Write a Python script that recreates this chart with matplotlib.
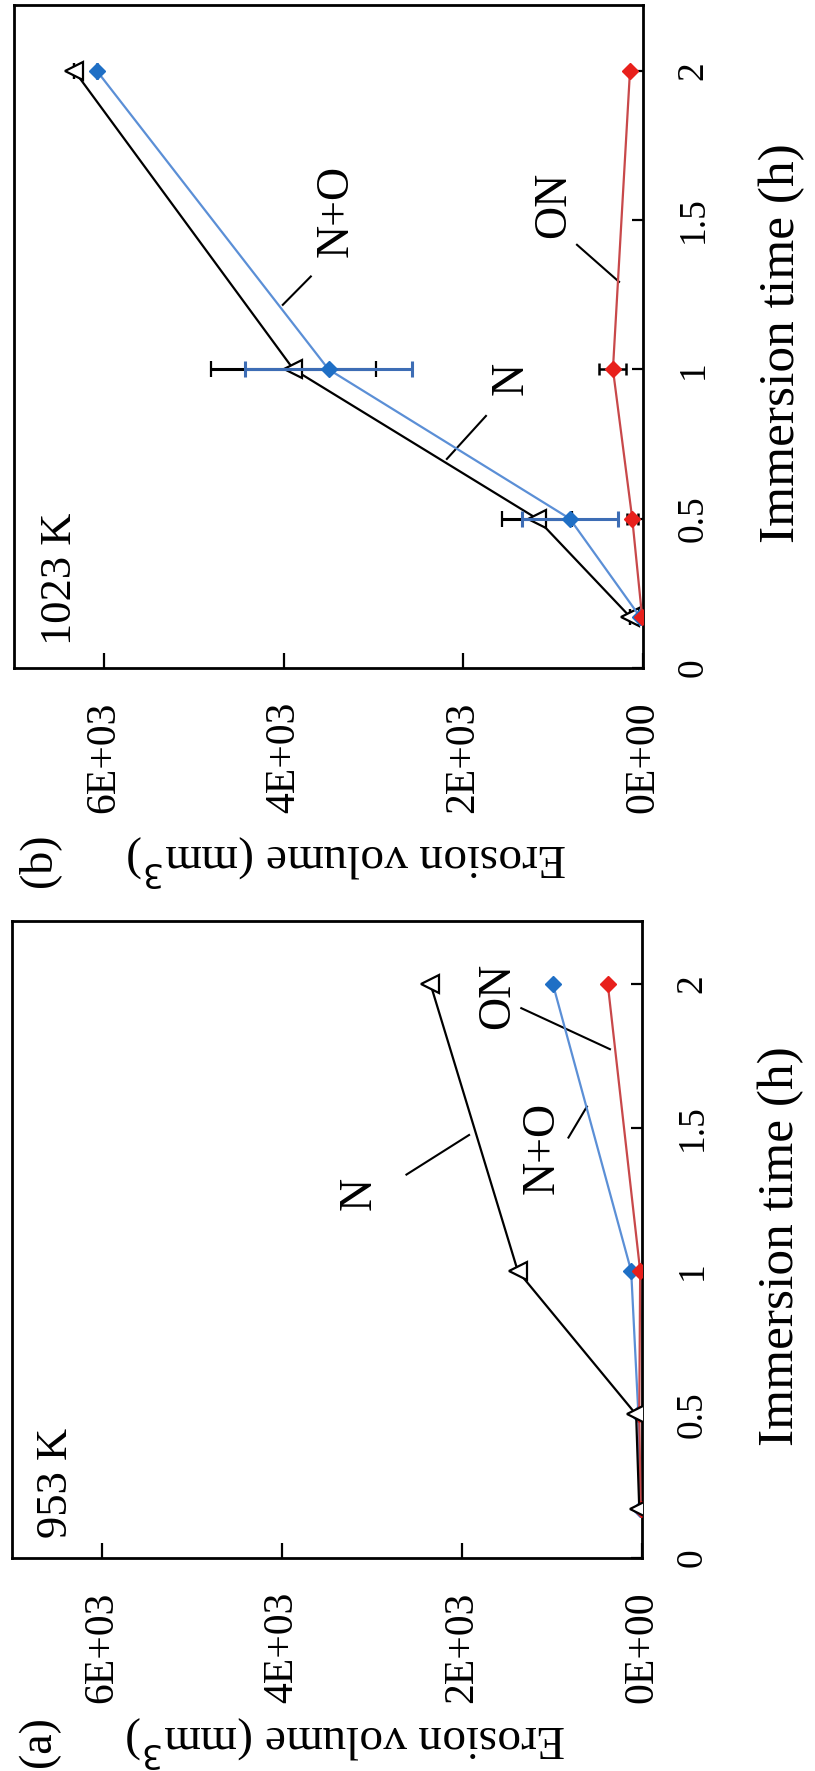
# erosion volume vs immersion time, figure drawn rotated 90 degrees (as in the source page)
import matplotlib
matplotlib.use('Agg')
from matplotlib import pyplot as plt

plt.rcParams['font.family'] = ['Liberation Serif', 'DejaVu Serif']

# dados
tempo = [0.17, 0.5, 1, 2]
tempo_ticks = [0, 0.5, 1, 1.5, 2]
tempo_labels = ['0', '0.5', '1', '1.5', '2']
erosao_ticks = [0, 2000, 4000, 6000]
erosao_labels = ['0E+00', '2E+03', '4E+03', '6E+03']

# (a) 953 K
a_N = [30, 65, 1380, 2350]
a_NO = [20, 40, 120, 990]
a_ON = [15, 30, 20, 380]

# (b) 1023 K
b_N = [140, 1180, 3890, 6330]
b_NO = [30, 815, 3500, 6080]
b_ON = [10, 120, 335, 145]
b_N_err = [0, 395, 920, 0]
b_NO_err = [0, 535, 930, 0]
b_ON_err = [0, 60, 150, 0]

azul_linha, azul_ponto, azul_erro = '#5b8fd6', '#1f6fc5', '#3d6db5'
verm_linha, verm_ponto = '#c8484a', '#e8201c'

fig = plt.figure(figsize=(8.15, 17.71), dpi=100)
ax_b = fig.add_axes([0.0172, 0.6228, 0.7718, 0.3744])
ax_a = fig.add_axes([0.0147, 0.1203, 0.7730, 0.3597])


def desenha(ax, N, NO, ON, eN=None, eNO=None, eON=None, z_N=3):
    ax.errorbar(N, tempo, xerr=eN, color='black', lw=1.6, marker='<', ms=13,
                mfc='white', mec='black', mew=1.6, capsize=6, elinewidth=2.2,
                capthick=2.2, zorder=z_N)
    ax.errorbar(NO, tempo, xerr=eNO, color=azul_linha, lw=1.6, marker='D', ms=8,
                mfc=azul_ponto, mec=azul_ponto, capsize=6, elinewidth=2.2,
                capthick=2.2, ecolor=azul_erro, zorder=4)
    ax.errorbar(ON, tempo, xerr=eON, color=verm_linha, lw=1.6, marker='D', ms=8,
                mfc=verm_ponto, mec=verm_ponto, capsize=4, elinewidth=1.8,
                capthick=1.8, ecolor='black', zorder=5)
    ax.set_xlim(7000, 0)
    ax.set_ylim(0, 2.22)
    ax.set_xticks(erosao_ticks)
    ax.set_xticklabels(erosao_labels, rotation=90, fontsize=30)
    ax.set_yticks(tempo_ticks)
    ax.set_yticklabels(tempo_labels, rotation=90, fontsize=27, va='center')
    ax.yaxis.tick_right()
    ax.tick_params(axis='x', direction='in', length=11, width=1.6, pad=24)
    ax.tick_params(axis='y', direction='in', length=8, width=1.6, pad=24)
    for s in ax.spines.values():
        s.set_linewidth(2)
    ax.set_xlabel('Erosion volume (mm$^3$)', fontsize=34, rotation=180,
                  va='center', ha='center')
    ax.yaxis.set_label_position('right')
    ax.set_ylabel('Immersion time (h)', fontsize=37, rotation=90, va='center')
    ax.yaxis.set_label_coords(1.22, 0.49)


desenha(ax_b, b_N, b_NO, b_ON, b_N_err, b_NO_err, b_ON_err)
desenha(ax_a, a_N, a_NO, a_ON, z_N=6)
ax_b.xaxis.set_label_coords(0.53, -0.29)
ax_a.xaxis.set_label_coords(0.53, -0.288)

# textos painel (b)
ax_b.text(6490, 0.30, '1023 K', rotation=90, fontsize=32, ha='center', va='center')
ax_b.text(1460, 0.97, 'N', rotation=90, fontsize=33, ha='center', va='center')
ax_b.plot([2183, 1748], [0.70, 0.844], c='black', lw=1.5)
ax_b.text(3410, 1.53, 'N+O', rotation=90, fontsize=33, ha='center', va='center')
ax_b.plot([4009, 3697], [1.216, 1.311], c='black', lw=1.5)
ax_b.text(990, 1.55, 'ON', rotation=90, fontsize=33, ha='center', va='center')
ax_b.plot([735, 267], [1.417, 1.293], c='black', lw=1.5)

# textos painel (a)
ax_a.text(6515, 0.26, '953 K', rotation=90, fontsize=32, ha='center', va='center')
ax_a.text(3140, 1.27, 'N', rotation=90, fontsize=33, ha='center', va='center')
ax_a.plot([2617, 1921], [1.336, 1.474], c='black', lw=1.5)
ax_a.text(1108, 1.43, 'N+O', rotation=90, fontsize=33, ha='center', va='center')
ax_a.plot([817, 612], [1.465, 1.573], c='black', lw=1.5)
ax_a.text(1604, 1.96, 'ON', rotation=90, fontsize=33, ha='center', va='center')
ax_a.plot([1341, 356], [1.916, 1.773], c='black', lw=1.5)

fig.text(39 / 815, 1 - 860 / 1771, '(b)', rotation=90, fontsize=33, ha='center', va='center')
fig.text(39 / 815, 1 - 1742 / 1771, '(a)', rotation=90, fontsize=33, ha='center', va='center')

fig.savefig('out.png', dpi=100)
